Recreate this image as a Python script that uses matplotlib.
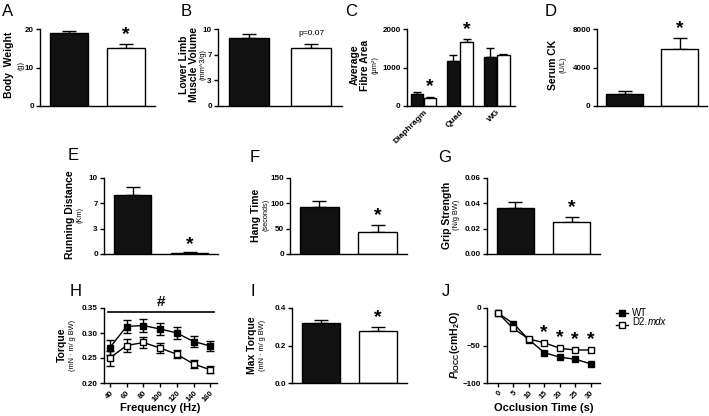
import matplotlib
matplotlib.use("Agg")
import matplotlib.pyplot as plt
import numpy as np

plt.rcParams['font.family'] = ['Liberation Sans', 'DejaVu Sans']
plt.rcParams['mathtext.fontset'] = 'custom'
plt.rcParams['mathtext.rm'] = 'Liberation Sans:bold'
plt.rcParams['mathtext.it'] = 'Liberation Sans:italic:bold'
plt.rcParams['mathtext.bf'] = 'Liberation Sans:bold'

# ---------------- data ----------------
groups = ['WT', 'D2.mdx']
body_weight = [18.9, 15.0]
body_weight_err = [0.7, 1.0]
muscle_volume = [8.85, 7.5]
muscle_volume_err = [0.45, 0.55]
fibre_muscles = ['Diaphragm', 'Quad', 'WG']
fibre_wt = [304, 1165, 1278]
fibre_wt_err = [53, 157, 218]
fibre_mdx = [209, 1652, 1322]
fibre_mdx_err = [34, 78, 35]
serum_ck = [1220, 5910]
serum_ck_err = [380, 1110]
running = [7.7, 0.15]
running_err = [1.1, 0.1]
hang_time = [93, 44]
hang_time_err = [11, 12.5]
grip = [0.0366, 0.0250]
grip_err = [0.0044, 0.0040]
freq = [40, 60, 80, 100, 120, 140, 160]
torque_wt = [0.271, 0.313, 0.315, 0.308, 0.300, 0.283, 0.274]
torque_wt_err = [0.015, 0.013, 0.013, 0.012, 0.012, 0.011, 0.010]
torque_mdx = [0.250, 0.275, 0.281, 0.270, 0.2575, 0.238, 0.2265]
torque_mdx_err = [0.015, 0.012, 0.011, 0.010, 0.008, 0.008, 0.007]
max_torque = [0.322, 0.280]
max_torque_err = [0.015, 0.017]
occ_time = [0, 5, 10, 15, 20, 25, 30]
pocc_wt = [-6.6, -20.7, -42.0, -59.5, -65.6, -68.3, -74.4]
pocc_wt_err = [1.5, 2.0, 2.5, 2.0, 2.0, 2.5, 2.0]
pocc_mdx = [-6.6, -27.3, -41.4, -46.3, -53.7, -56.0, -56.0]
pocc_mdx_err = [1.5, 2.5, 2.5, 2.5, 2.5, 2.5, 2.5]

W, H = 709, 416
fig = plt.figure(figsize=(W / 100, H / 100), dpi=100)

TICK_FS = 5.8
LAB_FS = 7.5
UNIT_FS = 5.3


def ax_px(l, t, r, b):
    ax = fig.add_axes([l / W, 1 - b / H, (r - l) / W, (b - t) / H])
    for s in ['top', 'right']:
        ax.spines[s].set_visible(False)
    for s in ['left', 'bottom']:
        ax.spines[s].set_linewidth(1.0)
    ax.tick_params(axis='y', length=3, width=1, labelsize=TICK_FS, pad=1.5)
    return ax


def boldticks(ax):
    for lab in ax.get_yticklabels() + ax.get_xticklabels():
        lab.set_fontweight('bold')


def letter(x, y, s):
    fig.text(x / W, 1 - y / H, s, fontsize=12, ha='left', va='center')


def ylab(x, y, s, size=LAB_FS, bold=True):
    fig.text(x / W, 1 - y / H, s, fontsize=size, rotation=90, ha='center', va='center',
             fontweight='bold' if bold else 'normal')


def star(ax, x, y, dy=4):
    ax.annotate('*', (x, y), xytext=(0, dy), textcoords='offset points', ha='center',
                va='bottom', fontsize=14, fontweight='bold', annotation_clip=False)


def two_bars(ax, vals, errs, ylim, ticks, ticklabels=None):
    x = np.arange(2)
    ax.bar(x, vals, width=0.66, color=['#111111', 'white'], edgecolor='black',
           linewidth=1.0, zorder=2)
    ax.errorbar(x, vals, yerr=[[0, 0], errs], fmt='none', ecolor='black',
                elinewidth=1.0, capsize=5, capthick=1.0, zorder=1)
    ax.set_xlim(-0.5, 1.5)
    ax.set_ylim(*ylim)
    ax.set_xticks([])
    ax.set_yticks(ticks)
    if ticklabels is not None:
        ax.set_yticklabels(ticklabels)
    boldticks(ax)
    return x


# A
axA = ax_px(40, 29, 155, 106)
x = two_bars(axA, body_weight, body_weight_err, (0, 20), [0, 10, 20])
star(axA, x[1], body_weight[1] + body_weight_err[1], 1)
letter(2, 12, 'A')
ylab(9, 65, 'Body  Weight')
ylab(21, 65, '(g)', UNIT_FS, False)

# B
axB = ax_px(218, 29, 342, 106)
x = two_bars(axB, muscle_volume, muscle_volume_err, (0, 10), [0, 10 / 3, 20 / 3, 10],
             ['0', '3', '7', '10'])
axB.annotate('p=0.07', (x[1], muscle_volume[1] + muscle_volume_err[1]), xytext=(0, 5),
             textcoords='offset points', ha='center', va='bottom', fontsize=6)
letter(181, 12, 'B')
ylab(184, 65, 'Lower Limb')
ylab(194, 65, 'Muscle Volume')
ylab(203, 65, '(mm^3/g)', UNIT_FS, False)

# C
axC = ax_px(407, 29, 515, 106)
xc = np.arange(3)
bw = 0.34
axC.bar(xc - bw / 2 - 0.01, fibre_wt, width=bw, color='#111111', edgecolor='black', lw=1.0, zorder=2)
axC.bar(xc + bw / 2 + 0.01, fibre_mdx, width=bw, color='white', edgecolor='black', lw=1.0, zorder=2)
axC.errorbar(xc - bw / 2 - 0.01, fibre_wt, yerr=[[0] * 3, fibre_wt_err], fmt='none', ecolor='black',
             elinewidth=1.0, capsize=3, capthick=1.0, zorder=1)
axC.errorbar(xc + bw / 2 + 0.01, fibre_mdx, yerr=[[0] * 3, fibre_mdx_err], fmt='none', ecolor='black',
             elinewidth=1.0, capsize=3, capthick=1.0, zorder=1)
axC.set_xlim(-0.45, 2.5)
axC.set_ylim(0, 2000)
axC.set_yticks([0, 1000, 2000])
axC.set_xticks(xc)
axC.set_xticklabels(fibre_muscles, rotation=45, ha='right', rotation_mode='anchor', fontsize=6)
axC.tick_params(axis='x', length=0, pad=2)
boldticks(axC)
for i in [0, 1]:
    star(axC, xc[i] + bw / 2 + 0.01, fibre_mdx[i] + fibre_mdx_err[i], 1)
letter(345, 12, 'C')
ylab(355, 65, 'Average')
ylab(365, 65, 'Fibre Area')
ylab(375, 65, '(μm²)', UNIT_FS, False)

# D
axD = ax_px(597, 29, 707, 106)
x = two_bars(axD, serum_ck, serum_ck_err, (0, 8000), [0, 4000, 8000])
star(axD, x[1], serum_ck[1] + serum_ck_err[1], 1)
letter(545, 12, 'D')
ylab(553, 65, 'Serum CK')
ylab(563, 65, '(U/L)', UNIT_FS, False)

# E
axE = ax_px(104, 178, 218, 254)
x = two_bars(axE, running, running_err, (0, 10), [0, 10 / 3, 20 / 3, 10], ['0', '3', '7', '10'])
star(axE, x[1], running[1] + running_err[1], -1)
letter(68, 155, 'E')
ylab(70, 215, 'Running Distance')
ylab(80, 215, '(Km)', UNIT_FS, False)

# F
axF = ax_px(290, 178, 407, 254)
x = two_bars(axF, hang_time, hang_time_err, (0, 150), [0, 50, 100, 150])
star(axF, x[1], hang_time[1] + hang_time_err[1], 1)
letter(250, 157, 'F')
ylab(256, 215, 'Hang Time')
ylab(266, 215, '(seconds)', UNIT_FS, False)

# G
axG = ax_px(487, 178, 600, 254)
x = two_bars(axG, grip, grip_err, (0, 0.06), [0, 0.02, 0.04, 0.06],
             ['0.00', '0.02', '0.04', '0.06'])
star(axG, x[1], grip[1] + grip_err[1], 1)
letter(438, 158, 'G')
ylab(447, 215, 'Grip Strength')
ylab(457, 215, '(N/g BW)', UNIT_FS, False)

# H
axH = ax_px(104, 308, 217, 383)
axH.errorbar(freq, torque_wt, yerr=torque_wt_err, color='black', marker='s', ms=4.5,
             mfc='black', mec='black', lw=1.0, elinewidth=1.0, capsize=3, capthick=1.0)
axH.errorbar(freq, torque_mdx, yerr=torque_mdx_err, color='black', marker='s', ms=4.5,
             mfc='white', mec='black', mew=1.0, lw=1.0, elinewidth=1.0, capsize=3, capthick=1.0)
axH.set_xlim(33, 168)
axH.set_ylim(0.20, 0.35)
axH.set_yticks([0.20, 0.25, 0.30, 0.35])
axH.set_xticks(freq)
axH.set_xticklabels([str(f) for f in freq], rotation=45, ha='right', rotation_mode='anchor',
                    fontsize=5.5)
axH.tick_params(axis='x', length=3, width=1, pad=2)
boldticks(axH)
axH.plot([38, 164], [0.342, 0.342], color='black', lw=1.2, clip_on=False)
axH.text(101, 0.347, '#', ha='center', va='bottom', fontsize=11, fontweight='bold', clip_on=False)
fig.text(160 / W, 1 - 408 / H, 'Frequency (Hz)', fontsize=8, fontweight='bold',
         ha='center', va='center')
letter(70, 292, 'H')
ylab(62, 345, 'Torque')
ylab(73, 345, '(mN · m/ g BW)', UNIT_FS, False)

# I
axI = ax_px(292, 308, 407, 383)
x = two_bars(axI, max_torque, max_torque_err, (0, 0.4), [0, 0.2, 0.4], ['0.0', '0.2', '0.4'])
star(axI, x[1], max_torque[1] + max_torque_err[1], 1)
letter(250, 292, 'I')
ylab(252, 345, 'Max Torque')
ylab(262, 345, '(mN · m/ g BW)', UNIT_FS, False)

# J
axJ = ax_px(487, 308, 600, 383)
axJ.errorbar(occ_time, pocc_wt, yerr=pocc_wt_err, color='black', marker='s', ms=4.5,
             mfc='black', mec='black', lw=1.0, elinewidth=1.0, capsize=2, capthick=1.0,
             label='WT')
axJ.errorbar(occ_time, pocc_mdx, yerr=pocc_mdx_err, color='black', marker='s', ms=4.5,
             mfc='white', mec='black', mew=1.0, lw=1.0, elinewidth=1.0, capsize=2, capthick=1.0,
             label='D2.mdx')
axJ.set_xlim(-3.5, 33)
axJ.set_ylim(-100, 0)
axJ.set_yticks([-100, -50, 0])
axJ.set_xticks(occ_time)
axJ.set_xticklabels([str(t) for t in occ_time], rotation=45, ha='right', rotation_mode='anchor',
                    fontsize=5.5)
axJ.tick_params(axis='x', length=3, width=1, pad=2)
boldticks(axJ)
for i in [3, 4, 5, 6]:
    star(axJ, occ_time[i], pocc_mdx[i] + pocc_mdx_err[i], 0)
fig.text(544 / W, 1 - 408 / H, 'Occlusion Time (s)', fontsize=8, fontweight='bold',
         ha='center', va='center')
letter(442, 292, 'J')
ylab(455, 345, r'$\mathit{P}_{\mathrm{IOCC}}$(cmH$_2$O)', 7.5)

# legend (manual)
lx0, lx1 = 616, 628
for yy, fc in [(313, 'black'), (325, 'white')]:
    fig.add_artist(plt.Line2D([lx0 / W, lx1 / W], [1 - yy / H, 1 - yy / H], color='black', lw=1.0))
    fig.add_artist(plt.Line2D([(lx0 + lx1) / 2 / W], [1 - yy / H], marker='s', ms=4.5,
                              mfc=fc, mec='black', color='black'))
fig.text(632 / W, 1 - 313 / H, 'WT', fontsize=7, va='center')
t_d2 = fig.text(632 / W, 1 - 325 / H, 'D2.', fontsize=7, va='baseline')
fig.text(0, 0, '', fontsize=7)
ann = axJ.annotate('mdx', xy=(1, 0), xycoords=t_d2, xytext=(0.3, 0), textcoords='offset points',
                   ha='left', va='bottom', fontsize=7, style='italic', annotation_clip=False)

fig.savefig('out.png', dpi=100)
